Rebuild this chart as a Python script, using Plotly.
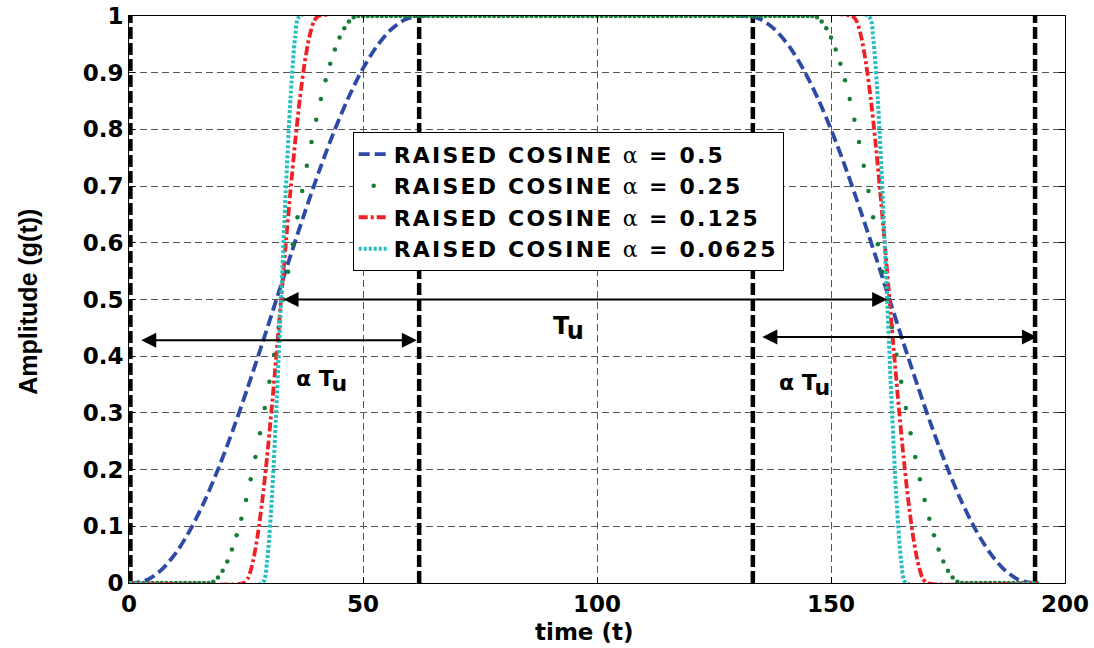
import plotly.graph_objects as go

# ---------------- data ----------------
x_ticks = [0, 50, 100, 150, 200]
x_tick_labels = ["0", "50", "100", "150", "200"]
y_ticks = [0, 0.1, 0.2, 0.3, 0.4, 0.5, 0.6, 0.7, 0.8, 0.9, 1]
y_tick_labels = ["0", "0.1", "0.2", "0.3", "0.4", "0.5", "0.6", "0.7", "0.8", "0.9", "1"]

# alpha = 0.5 (blue dashed)
blue_rise_x = [1, 4.05, 7.1, 10.15, 13.2, 16.25, 19.3, 22.35, 25.4, 28.45, 31.5,
               34.55, 37.6, 40.65, 43.7, 46.75, 49.8, 52.85, 55.9, 58.95, 62]
blue_rise_y = [0, 0.0062, 0.0245, 0.0545, 0.0955, 0.1464, 0.2061, 0.2730, 0.3455, 0.4218, 0.5,
               0.5782, 0.6545, 0.7270, 0.7939, 0.8536, 0.9045, 0.9455, 0.9755, 0.9938, 1]
blue_fall_x = [132, 135.05, 138.1, 141.15, 144.2, 147.25, 150.3, 153.35, 156.4, 159.45, 162.5,
               165.55, 168.6, 171.65, 174.7, 177.75, 180.8, 183.85, 186.9, 189.95, 193]
blue_fall_y = [1, 0.9938, 0.9755, 0.9455, 0.9045, 0.8536, 0.7939, 0.7270, 0.6545, 0.5782, 0.5,
               0.4218, 0.3455, 0.2730, 0.2061, 0.1464, 0.0955, 0.0545, 0.0245, 0.0062, 0]

# alpha = 0.25 (green dots, one sample per time unit, t = 1..194)
green_t = list(range(1, 195))
green_rise = [0, 0.0024, 0.0096, 0.0215, 0.0381, 0.0590, 0.0843, 0.1135, 0.1464, 0.1828, 0.2222,
              0.2643, 0.3087, 0.3549, 0.4025, 0.4510, 0.5, 0.5490, 0.5975, 0.6451, 0.6913,
              0.7357, 0.7778, 0.8172, 0.8536, 0.8865, 0.9157, 0.9410, 0.9619, 0.9785, 0.9904,
              0.9976, 1]
green_fall = [1, 0.9976, 0.9904, 0.9785, 0.9619, 0.9410, 0.9157, 0.8865, 0.8536, 0.8172, 0.7778,
              0.7357, 0.6913, 0.6451, 0.5975, 0.5490, 0.5, 0.4510, 0.4025, 0.3549, 0.3087,
              0.2643, 0.2222, 0.1828, 0.1464, 0.1135, 0.0843, 0.0590, 0.0381, 0.0215, 0.0096,
              0.0024, 0]
green_low_start = [0] * 16      # t = 1..16
green_top = [1] * 96            # t = 50..145
green_low_end = [0] * 16        # t = 179..194

# alpha = 0.125 (red dash-dot)
red_rise_x = [24.5, 25.5, 26.5, 27.5, 28.5, 29.5, 30.5, 31.5, 32.5, 33.5, 34.5, 35.5, 36.5,
              37.5, 38.5, 39.5, 40.5]
red_rise_y = [0, 0.0096, 0.0381, 0.0843, 0.1464, 0.2222, 0.3087, 0.4025, 0.5, 0.5975, 0.6913,
              0.7778, 0.8536, 0.9157, 0.9619, 0.9904, 1]
red_fall_x = [154.5, 155.5, 156.5, 157.5, 158.5, 159.5, 160.5, 161.5, 162.5, 163.5, 164.5,
              165.5, 166.5, 167.5, 168.5, 169.5, 170.5]
red_fall_y = [1, 0.9904, 0.9619, 0.9157, 0.8536, 0.7778, 0.6913, 0.5975, 0.5, 0.4025, 0.3087,
              0.2222, 0.1464, 0.0843, 0.0381, 0.0096, 0]

# alpha = 0.0625 (cyan dotted)
cyan_rise_x = [28.5, 29.5, 30.5, 31.5, 32.5, 33.5, 34.5, 35.5, 36.5]
cyan_rise_y = [0, 0.0381, 0.1464, 0.3087, 0.5, 0.6913, 0.8536, 0.9619, 1]
cyan_fall_x = [158, 159, 160, 161, 162, 163, 164, 165, 166]
cyan_fall_y = [1, 0.9619, 0.8536, 0.6913, 0.5, 0.3087, 0.1464, 0.0381, 0]

t_start = 0
t_end = 194

# thick black vertical markers
vline_x = [0.3, 62, 133.3, 193.6]

# double arrows: (x_from, x_to, y)
arrows = [(2.3, 61.5, 0.428), (32.7, 162.0, 0.5), (135.0, 194.0, 0.434)]

# text labels: (x, y, main text, subscript, size)
labels = [(41.2, 0.357, "α T", "u", 22),
          (93.9, 0.449, "T", "u", 24),
          (144.4, 0.349, "α T", "u", 22)]

names = ["0.5", "0.25", "0.125", "0.0625"]
colors = ["rgb(44,74,166)", "rgb(22,125,55)", "rgb(238,34,38)", "rgb(38,190,192)"]

# ---------------- figure ----------------
def legend_name(a):
    return ("<span style='letter-spacing:2.2px'><b>RAISED COSINE</b> "
            "<span style='font-family:DejaVu Serif'>α</span> <b>= " + a + "</b></span>")

fig = go.Figure()

vx, vy = [], []
for xv in vline_x:
    vx += [xv, xv, None]
    vy += [0, 1, None]
fig.add_trace(go.Scatter(x=vx, y=vy, mode="lines", showlegend=False, hoverinfo="skip",
                         line=dict(color="black", width=4.5, dash="12px,4px")))

fig.add_trace(go.Scatter(
    x=[t_start] + blue_rise_x + blue_fall_x + [t_end],
    y=[0] + blue_rise_y + blue_fall_y + [0],
    mode="lines", name=legend_name(names[0]),
    line=dict(color=colors[0], width=3.8, dash="11px,5px", shape="spline", smoothing=0.8)))

fig.add_trace(go.Scatter(
    x=green_t,
    y=green_low_start + green_rise + green_top + green_fall + green_low_end,
    mode="markers", name=legend_name(names[1]),
    marker=dict(color=colors[1], size=4.5)))

fig.add_trace(go.Scatter(
    x=[t_start] + red_rise_x + red_fall_x + [t_end],
    y=[0] + red_rise_y + red_fall_y + [0],
    mode="lines", name=legend_name(names[2]),
    line=dict(color=colors[2], width=3.8, dash="9px,3px,3px,3px", shape="spline", smoothing=0.6)))

fig.add_trace(go.Scatter(
    x=[t_start] + cyan_rise_x + cyan_fall_x + [t_end],
    y=[0] + cyan_rise_y + cyan_fall_y + [0],
    mode="lines", name=legend_name(names[3]),
    line=dict(color=colors[3], width=4, dash="3px,2px", shape="spline", smoothing=0.6)))

annotations = []
for (x0, x1, yy) in arrows:
    annotations.append(dict(x=x1, y=yy, ax=x0, ay=yy, xref="x", yref="y", axref="x", ayref="y",
                            text="", showarrow=True, arrowhead=2, arrowside="end+start",
                            arrowsize=1.5, arrowwidth=2, arrowcolor="black",
                            standoff=0, startstandoff=0))
for (xx, yy, txt, sub, sz) in labels:
    annotations.append(dict(
        x=xx, y=yy, xref="x", yref="y",
        text="<b>" + txt + "<sub><span style='font-size:" + str(sz) + "px'>" + sub
             + "</span></sub></b>",
        showarrow=False, xanchor="center", yanchor="middle",
        font=dict(family="DejaVu Sans", size=sz, color="black")))

annotations.append(dict(x=0.486, y=-0.086, xref="paper", yref="paper", text="<b>time (t)</b>",
                        showarrow=False, xanchor="center", yanchor="middle",
                        font=dict(family="DejaVu Sans", size=23, color="black")))
annotations.append(dict(x=-0.108, y=0.496, xref="paper", yref="paper",
                        text="<b>Amplitude (g(t))</b>", textangle=-90,
                        showarrow=False, xanchor="center", yanchor="middle",
                        font=dict(family="Liberation Sans, Arial", size=25, color="black")))

tickfont = dict(family="DejaVu Sans", size=23, color="black", weight="bold")
axis_common = dict(showgrid=True, gridcolor="#555555", gridwidth=1, griddash="7px,4px",
                   showline=True, linecolor="black", linewidth=1, mirror="ticks",
                   ticks="inside", ticklen=6, tickcolor="black", zeroline=False,
                   tickfont=tickfont)

fig.update_layout(
    width=1094, height=648,
    margin=dict(l=129, r=29, t=16, b=65, autoexpand=False),
    plot_bgcolor="white", paper_bgcolor="white",
    xaxis=dict(range=[0, 200], tickvals=x_ticks, ticktext=x_tick_labels, **axis_common),
    yaxis=dict(range=[0, 1], tickvals=y_ticks, ticktext=y_tick_labels, **axis_common),
    legend=dict(x=0.239, y=0.795, xanchor="left", yanchor="top", bgcolor="white",
                bordercolor="black", borderwidth=1,
                font=dict(family="DejaVu Sans", size=22, color="black"),
                tracegroupgap=0),
    annotations=annotations,
)

fig.write_html("out.html")
